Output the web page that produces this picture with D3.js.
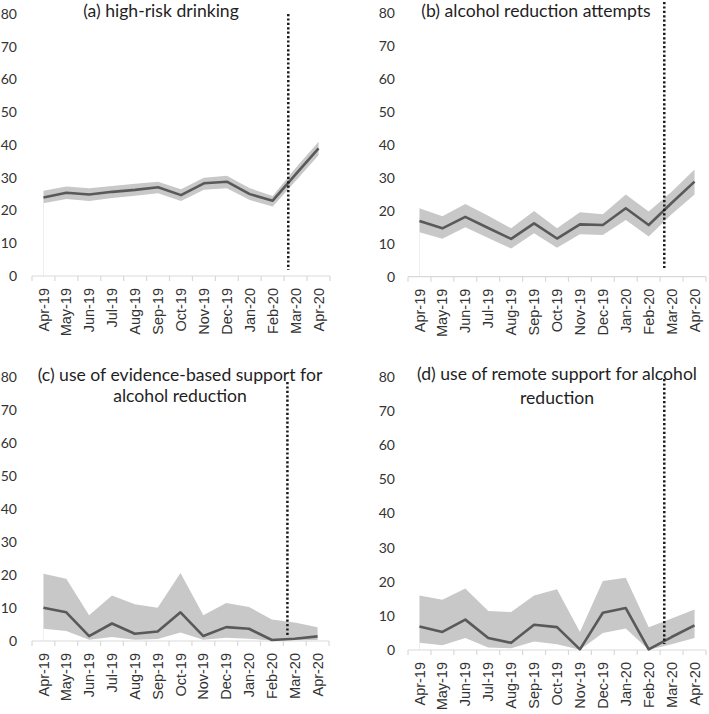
<!DOCTYPE html>
<html>
<head>
<meta charset="utf-8">
<script src="https://cdn.jsdelivr.net/npm/d3@7"></script>
<style>
  html, body { margin: 0; padding: 0; background: #ffffff; }
  svg { display: block; font-family: Lato, "Open Sans", "Liberation Sans", sans-serif; }
</style>
</head>
<body>
<svg id="chart" width="709" height="714"></svg>
<script>
// ---------- data ----------
const months = ["Apr-19","May-19","Jun-19","Jul-19","Aug-19","Sep-19","Oct-19","Nov-19","Dec-19","Jan-20","Feb-20","Mar-20","Apr-20"];
const yTicks = [0, 10, 20, 30, 40, 50, 60, 70, 80];

const titleA = ["(a) high-risk drinking"];
const estA   = [24.0, 25.4, 24.9, 25.7, 26.3, 27.1, 24.7, 28.3, 28.8, 25.0, 23.0, 31.0, 39.0];
const upperA = [26.0, 27.3, 26.8, 27.5, 28.2, 28.8, 26.5, 30.0, 30.6, 26.8, 24.4, 33.0, 41.0];
const lowerA = [22.2, 23.5, 22.9, 23.8, 24.5, 25.3, 22.9, 26.3, 26.8, 23.2, 21.2, 29.0, 36.9];

const titleB = ["(b) alcohol reduction attempts"];
const estB   = [16.9, 14.7, 18.2, 14.8, 11.5, 16.2, 11.6, 15.9, 15.7, 20.8, 15.7, 22.4, 28.9];
const upperB = [20.8, 18.4, 22.1, 18.5, 14.7, 20.0, 14.7, 19.6, 19.0, 25.0, 19.8, 25.8, 32.6];
const lowerB = [13.5, 11.5, 15.0, 11.8,  8.6, 13.2,  8.8, 12.9, 12.7, 17.2, 12.2, 19.0, 25.0];

const titleC = ["(c) use of evidence-based support for", "alcohol reduction"];
const estC   = [10.1,  8.7, 1.5,  5.3,  2.2,  2.9,  8.7, 1.5,  4.2,  3.7, 0.3, 0.7, 1.4];
const upperC = [20.4, 18.9, 7.8, 13.8, 11.1, 10.1, 20.6, 7.8, 11.5, 10.3, 6.5, 5.6, 4.2];
const lowerC = [ 3.7,  3.0, 0.4,  1.2,  0.4,  0.6,  2.6, 0.4,  1.0,  0.7, 0.1, 0.2, 0.3];

const titleD = ["(d) use of remote support for alcohol", "reduction"];
const estD   = [ 6.9,  5.3,  8.9,  3.5,  2.1,  7.4,  6.7, 0.2, 10.9, 12.3, 0.2, 3.8,  7.2];
const upperD = [16.0, 14.7, 18.0, 11.4, 11.1, 16.0, 17.8, 5.3, 20.2, 21.2, 6.7, 9.2, 11.9];
const lowerD = [ 2.1,  1.4,  3.5,  0.7,  0.5,  2.5,  1.7, 0.1,  5.0,  6.3, 0.1, 1.7,  3.5];

// lockdown marker position (fractional month index, between Feb-20 and Mar-20)
const lockdownIndex = 10.68;

// ---------- layout ----------
const panels = [
  { title: titleA, est: estA, up: upperA, lo: lowerA,
    x0: 32, x1: 330, yTop: 14, yBot: 276, labRight: 17, tx: 161, ty: [17], dotTop: 14, dotBot: 270 },
  { title: titleB, est: estB, up: upperB, lo: lowerB,
    x0: 408, x1: 706, yTop: 13.5, yBot: 276.7, labRight: 395, tx: 536, ty: [17], dotTop: 2, dotBot: 268 },
  { title: titleC, est: estC, up: upperC, lo: lowerC,
    x0: 32, x1: 329, yTop: 377, yBot: 641, labRight: 17, tx: 180, ty: [381, 402], dotTop: 382, dotBot: 635 },
  { title: titleD, est: estD, up: upperD, lo: lowerD,
    x0: 408, x1: 706, yTop: 377, yBot: 650, labRight: 395, tx: 557, ty: [380, 404], dotTop: 379, dotBot: 644 }
];

const svg = d3.select("#chart");
const textColor = "#333333";

panels.forEach(p => {
  const g = svg.append("g");
  const x = d3.scaleBand().domain(months).range([p.x0, p.x1]).paddingInner(0).paddingOuter(0);
  const y = d3.scaleLinear().domain([0, 80]).range([p.yBot, p.yTop]);
  const cx = m => x(m) + x.bandwidth() / 2;

  // y tick labels
  g.selectAll("text.ytick").data(yTicks).join("text")
    .attr("class", "ytick")
    .attr("x", p.labRight)
    .attr("y", d => y(d))
    .attr("dy", "0.35em")
    .attr("text-anchor", "end")
    .attr("font-size", 14)
    .attr("fill", textColor)
    .text(d => d);

  // CI band
  const area = d3.area()
    .x((d, i) => cx(months[i]))
    .y0((d, i) => y(p.lo[i]))
    .y1((d, i) => y(p.up[i]));
  g.append("path").datum(p.est).attr("d", area).attr("fill", "#c8c8c8");

  // faint edge of lower area
  g.append("line")
    .attr("x1", cx(months[0])).attr("x2", cx(months[0]))
    .attr("y1", y(p.lo[0])).attr("y2", y(0))
    .attr("stroke", "#eeeeee").attr("stroke-width", 1);

  // x axis line + boundary ticks
  g.append("line")
    .attr("x1", p.x0).attr("x2", p.x1)
    .attr("y1", y(0)).attr("y2", y(0))
    .attr("stroke", "#d9d9d9").attr("stroke-width", 1.2);
  const edges = months.map(m => x(m)).concat([p.x1]);
  g.selectAll("line.xt").data(edges).join("line")
    .attr("class", "xt")
    .attr("x1", d => d).attr("x2", d => d)
    .attr("y1", y(0)).attr("y2", y(0) + 5)
    .attr("stroke", "#d9d9d9").attr("stroke-width", 1.2);

  // x tick labels (via axis, no tick lines)
  const ax = g.append("g")
    .attr("transform", `translate(0,${y(0)})`)
    .call(d3.axisBottom(x).tickSize(0).tickPadding(0));
  ax.select(".domain").remove();
  ax.selectAll("text")
    .attr("font-size", 14.5)
    .attr("font-family", null)
    .attr("fill", textColor)
    .attr("text-anchor", "end")
    .attr("transform", "rotate(-90)")
    .attr("x", -12)
    .attr("y", 0)
    .attr("dy", "0.35em");

  // estimate line
  const line = d3.line().x((d, i) => cx(months[i])).y(d => y(d));
  g.append("path").datum(p.est).attr("d", line)
    .attr("fill", "none").attr("stroke", "#595959").attr("stroke-width", 2.6)
    .attr("stroke-linejoin", "round");

  // lockdown dotted line
  const lx = p.x0 + (lockdownIndex + 0.5) * x.bandwidth();
  g.append("line")
    .attr("x1", lx).attr("x2", lx)
    .attr("y1", p.dotTop).attr("y2", p.dotBot)
    .attr("stroke", "#1a1a1a").attr("stroke-width", 2.5)
    .attr("stroke-dasharray", "2.2,2.2");

  // title
  p.title.forEach((t, i) => {
    g.append("text")
      .attr("x", p.tx).attr("y", p.ty[i])
      .attr("text-anchor", "middle")
      .attr("font-size", 17.6)
      .attr("fill", "#1f1f1f")
      .text(t);
  });
});
</script>
</body>
</html>
